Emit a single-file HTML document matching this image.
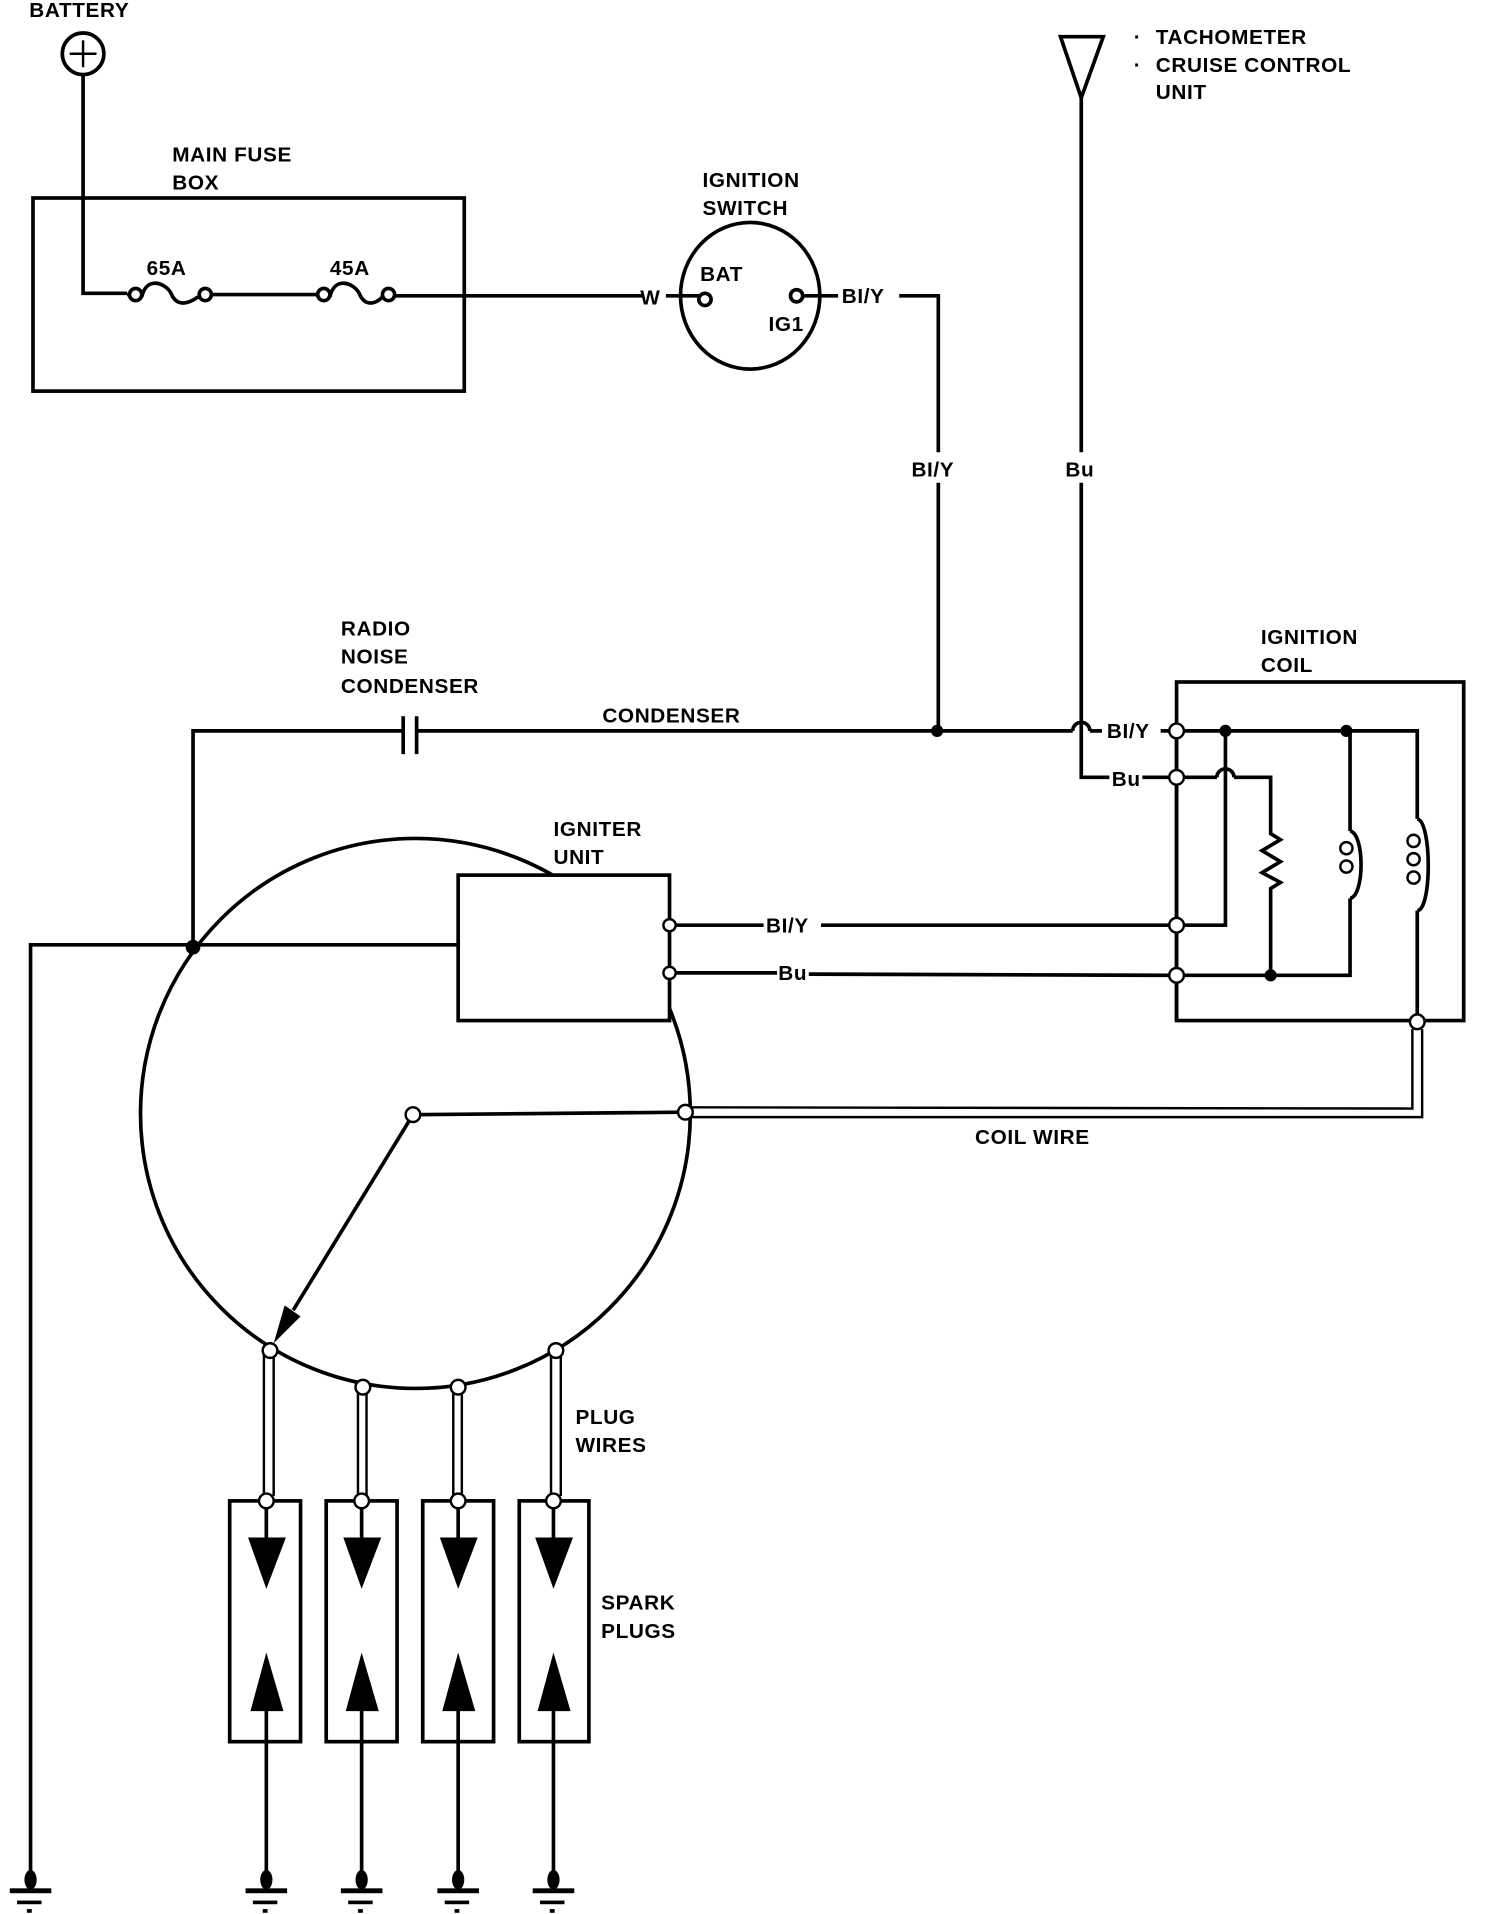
<!DOCTYPE html>
<html><head><meta charset="utf-8"><style>
html,body{margin:0;padding:0;background:#fff;}
svg{display:block;}
text{font-family:"Liberation Sans",sans-serif;font-weight:bold;font-size:17px;fill:#000;letter-spacing:0.5px;}
</style></head><body>
<svg width="1504" height="1914" viewBox="0 0 1231 1566" preserveAspectRatio="none" xmlns="http://www.w3.org/2000/svg">
<g fill="none" stroke="#000" stroke-width="3">
<circle cx="68" cy="44" r="17"/>
<line x1="68" y1="33" x2="68" y2="55" stroke-width="2"/>
<line x1="57" y1="44" x2="79" y2="44" stroke-width="2"/>
<polyline points="68,61 68,240 104,240"/>
<rect x="27" y="162" width="353" height="158"/>
<path d="M104,241 L112,241"/>
<circle cx="111" cy="241" r="5" fill="#fff"/>
<path d="M116,243 C120,225 136,232 140,240 C144,250 152,250 162,243"/>
<circle cx="168" cy="241" r="5" fill="#fff"/>
<line x1="173" y1="241" x2="260" y2="241"/>
<circle cx="265" cy="241" r="5" fill="#fff"/>
<path d="M270,243 C274,225 290,232 294,240 C298,250 306,250 313,243"/>
<circle cx="318" cy="241" r="5" fill="#fff"/>
<line x1="323" y1="242" x2="526" y2="242"/>
<line x1="545" y1="242" x2="572" y2="242"/>
<ellipse cx="614" cy="242" rx="57" ry="60"/>
<circle cx="577" cy="245" r="5" fill="#fff"/>
<circle cx="652" cy="242" r="5" fill="#fff"/>
<line x1="657" y1="242" x2="686" y2="242"/>
<polyline points="736,242 768,242 768,370"/>
<line x1="768" y1="395" x2="768" y2="598"/>
<polygon points="868,30 903,30 885,80"/>
<line x1="885" y1="80" x2="885" y2="370"/>
<polyline points="885,395 885,636 908,636"/>
<line x1="935" y1="636" x2="958" y2="636"/>
<polyline points="158,775 158,598 330,598"/>
<line x1="330" y1="586" x2="330" y2="617"/>
<line x1="341" y1="586" x2="341" y2="617"/>
<line x1="341" y1="598" x2="878" y2="598"/>
<path d="M878,598 A7,7 0 0 1 892,598"/>
<line x1="892" y1="598" x2="902" y2="598"/>
<line x1="950" y1="598" x2="958" y2="598"/>
<polyline points="375,773 25,773 25,1535"/>
<circle cx="340" cy="911" r="225"/>
<rect x="375" y="716" width="173" height="119" fill="#fff"/>
<line x1="553" y1="757" x2="625" y2="757"/>
<line x1="672" y1="757" x2="958" y2="757"/>
<line x1="553" y1="796" x2="636" y2="796"/>
<line x1="662" y1="797" x2="958" y2="798"/>
<line x1="338" y1="912" x2="558" y2="910"/>
<line x1="338" y1="912" x2="240" y2="1072"/>
<polyline points="566,906 1156,907 1156,842" stroke-width="2"/>
<polyline points="566,914 1164,914 1164,842" stroke-width="2"/>
<rect x="963" y="558" width="235" height="277"/>
<line x1="963" y1="598" x2="963" y2="835"/>
<polyline points="968,598 1160,598 1160,670"/>
<path d="M1160,670 C1172,672 1172,745 1160,745"/>
<circle cx="1157" cy="688" r="5" stroke-width="2"/>
<circle cx="1157" cy="703" r="5" stroke-width="2"/>
<circle cx="1157" cy="718" r="5" stroke-width="2"/>
<line x1="1160" y1="745" x2="1160" y2="830"/>
<polyline points="1003,598 1003,757 968,757"/>
<polyline points="968,636 996,636"/>
<path d="M996,636 A7,7 0 0 1 1010,636"/>
<polyline points="1010,636 1040,636 1040,682 1048,687 1033,696 1048,705 1033,714 1048,722 1040,727 1040,798"/>
<polyline points="968,798 1105,798 1105,735"/>
<path d="M1105,735 C1117,733 1117,682 1105,680"/>
<circle cx="1102" cy="694" r="5" stroke-width="2"/>
<circle cx="1102" cy="709" r="5" stroke-width="2"/>
<line x1="1105" y1="680" x2="1105" y2="598"/>
<g stroke-width="2">
<line x1="216" y1="1108" x2="216" y2="1224"/><line x1="224" y1="1108" x2="224" y2="1224"/>
<line x1="293" y1="1138" x2="293" y2="1224"/><line x1="300" y1="1138" x2="300" y2="1224"/>
<line x1="371" y1="1138" x2="371" y2="1224"/><line x1="378" y1="1138" x2="378" y2="1224"/>
<line x1="451" y1="1108" x2="451" y2="1224"/><line x1="459" y1="1108" x2="459" y2="1224"/>
</g>
<rect x="188" y="1228" width="58" height="197"/>
<rect x="267" y="1228" width="58" height="197"/>
<rect x="346" y="1228" width="58" height="197"/>
<rect x="425" y="1228" width="57" height="197"/>
<line x1="218" y1="1228" x2="218" y2="1260"/><line x1="296" y1="1228" x2="296" y2="1260"/>
<line x1="375" y1="1228" x2="375" y2="1260"/><line x1="453" y1="1228" x2="453" y2="1260"/>
<line x1="218" y1="1395" x2="218" y2="1535"/><line x1="296" y1="1395" x2="296" y2="1535"/>
<line x1="375" y1="1395" x2="375" y2="1535"/><line x1="453" y1="1395" x2="453" y2="1535"/>
</g>
<g fill="#000" stroke="none">
<polygon points="246,1077 233,1068 224,1099"/>
<polygon points="203,1258 234,1258 218,1300"/><polygon points="281,1258 312,1258 296,1300"/>
<polygon points="360,1258 391,1258 375,1300"/><polygon points="438,1258 469,1258 453,1300"/>
<polygon points="205,1400 232,1400 218,1352"/><polygon points="283,1400 310,1400 296,1352"/>
<polygon points="362,1400 389,1400 375,1352"/><polygon points="440,1400 467,1400 453,1352"/>
<circle cx="767" cy="598" r="5"/><circle cx="1003" cy="598" r="5"/><circle cx="1102" cy="598" r="5"/>
<circle cx="1040" cy="798" r="5"/><circle cx="158" cy="775" r="6"/>
<g id="gnd">
<ellipse cx="25" cy="1538" rx="5" ry="8"/>
<rect x="8" y="1545" width="34" height="4"/>
<rect x="14" y="1555" width="20" height="3"/>
<rect x="22" y="1562" width="4" height="3"/>
</g>
<use href="#gnd" x="193"/><use href="#gnd" x="271"/><use href="#gnd" x="350"/><use href="#gnd" x="428"/>
</g>
<g fill="#fff" stroke="#000" stroke-width="2">
<circle cx="548" cy="757" r="5"/><circle cx="548" cy="796" r="5"/>
<circle cx="963" cy="598" r="6"/><circle cx="963" cy="636" r="6"/>
<circle cx="963" cy="757" r="6"/><circle cx="963" cy="798" r="6"/>
<circle cx="1160" cy="836" r="6"/>
<circle cx="338" cy="912" r="6"/><circle cx="561" cy="910" r="6"/>
<circle cx="221" cy="1105" r="6"/><circle cx="297" cy="1135" r="6"/>
<circle cx="375" cy="1135" r="6"/><circle cx="455" cy="1105" r="6"/>
<circle cx="218" cy="1228" r="6"/><circle cx="296" cy="1228" r="6"/>
<circle cx="375" cy="1228" r="6"/><circle cx="453" cy="1228" r="6"/>
</g>
<text x="24" y="14">BATTERY</text>
<text x="141" y="132">MAIN FUSE</text>
<text x="141" y="155">BOX</text>
<text x="120" y="225">65A</text>
<text x="270" y="225">45A</text>
<text x="524" y="249">W</text>
<text x="575" y="153">IGNITION</text>
<text x="575" y="176">SWITCH</text>
<text x="573" y="230">BAT</text>
<text x="629" y="271">IG1</text>
<text x="689" y="248">BI/Y</text>
<text x="746" y="390">BI/Y</text>
<text x="872" y="390">Bu</text>
<text x="928" y="36">·</text>
<text x="946" y="36">TACHOMETER</text>
<text x="928" y="59">·</text>
<text x="946" y="59">CRUISE CONTROL</text>
<text x="946" y="81">UNIT</text>
<text x="279" y="520">RADIO</text>
<text x="279" y="543">NOISE</text>
<text x="279" y="567">CONDENSER</text>
<text x="493" y="591">CONDENSER</text>
<text x="1032" y="527">IGNITION</text>
<text x="1032" y="550">COIL</text>
<text x="906" y="604">BI/Y</text>
<text x="910" y="643">Bu</text>
<text x="453" y="684">IGNITER</text>
<text x="453" y="707">UNIT</text>
<text x="627" y="763">BI/Y</text>
<text x="637" y="802">Bu</text>
<text x="798" y="936">COIL WIRE</text>
<text x="471" y="1165">PLUG</text>
<text x="471" y="1188">WIRES</text>
<text x="492" y="1317">SPARK</text>
<text x="492" y="1340">PLUGS</text>
</svg>
</body></html>
